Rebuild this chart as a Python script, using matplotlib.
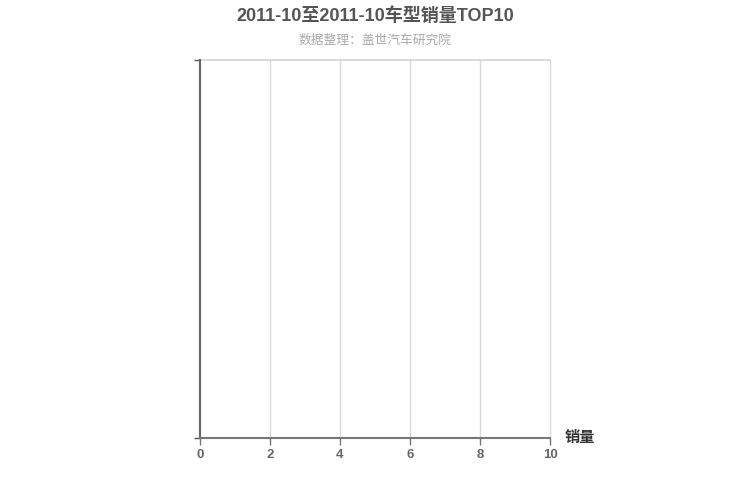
import matplotlib
matplotlib.use("Agg")
import matplotlib.pyplot as plt

plt.rcParams['font.family'] = ['Liberation Sans', 'Noto Sans CJK SC', 'DejaVu Sans']

title = "2011-10至2011-10车型销量TOP10"
subtitle = "数据整理：盖世汽车研究院"
categories = []
values = []
x_ticks = [0, 2, 4, 6, 8, 10]
x_label = "销量"

fig = plt.figure(figsize=(7.5, 5), dpi=100)
ax = fig.add_axes([200/750, 62/500, 350/750, 378/500])

ax.barh(categories, values, color="#c23531")
ax.set_xlim(0, 10)
ax.set_ylim(0, 1)
ax.set_xticks(x_ticks)
ax.set_xticklabels([str(t) for t in x_ticks], fontsize=9.5, color="#666666", fontweight="bold")
ax.set_yticks([0, 1])
ax.set_yticklabels([])

for t in x_ticks[1:]:
    ax.axvline(t, color="#d9d9d9", linewidth=1, zorder=0, clip_on=False)
ax.axhline(1, color="#d4d4d4", linewidth=1.2, zorder=0, clip_on=False)
ax.set_axisbelow(True)

for s in ['top', 'right']:
    ax.spines[s].set_visible(False)
ax.spines['left'].set_color("#666666")
ax.spines['left'].set_linewidth(1.5)
ax.spines['bottom'].set_color("#777777")
ax.spines['bottom'].set_linewidth(1.5)
ax.tick_params(axis='x', colors="#777777", length=5, width=1, pad=3, labelcolor="#666666")
ax.tick_params(axis='y', colors="#555555", length=4, width=1)

fig.text(0.5, 1 - 16/500, title, ha='center', va='center', fontsize=13,
         fontweight='bold', color="#555555")
fig.text(0.5, 1 - 41/500, subtitle, ha='center', va='center', fontsize=9.2,
         color="#aaaaaa")
fig.text(565/750, 1 - 438/500, x_label, ha='left', va='center', fontsize=11,
         fontweight='bold', color="#333333")

fig.savefig("out.png", dpi=100)
